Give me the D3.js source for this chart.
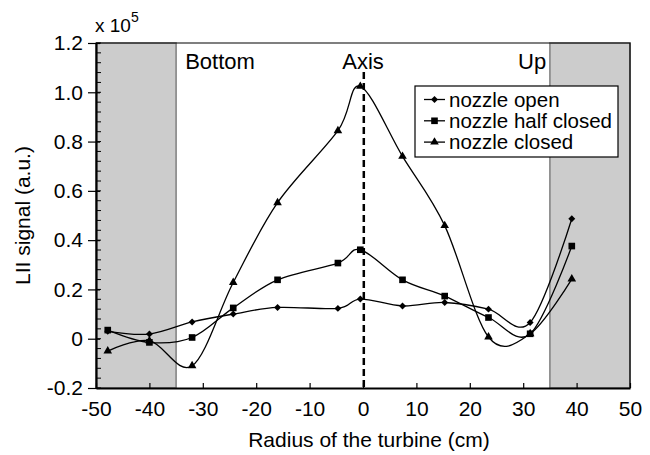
<!DOCTYPE html>
<html>
<head>
<meta charset="utf-8">
<script src="https://cdn.jsdelivr.net/npm/d3@7"></script>
<style>
  body { margin: 0; background: #fff; }
  text { font-family: "Liberation Sans", Arial, sans-serif; fill: #000; }
</style>
</head>
<body>
<div id="chart"></div>
<script>
// radius positions (cm) and LII signal in units of 1e5
const radius = [-47.8, -40, -32, -24.3, -16, -4.7, -0.5, 7.4, 15.3, 23.5, 31.3, 39.1];
const nozzleOpen = [0.030, 0.019, 0.068, 0.100, 0.127, 0.123, 0.161, 0.133, 0.147, 0.120, 0.066, 0.487];
const nozzleHalf = [0.035, -0.015, 0.005, 0.125, 0.239, 0.307, 0.361, 0.239, 0.173, 0.086, 0.020, 0.376];
const nozzleClosed = [-0.050, -0.008, -0.110, 0.228, 0.552, 0.844, 1.024, 0.740, 0.459, 0.007, 0.020, 0.242];

const seriesNames = ["nozzle open", "nozzle half closed", "nozzle closed"];
const seriesValues = [nozzleOpen, nozzleHalf, nozzleClosed];

const xTicks = [-50, -40, -30, -20, -10, 0, 10, 20, 30, 40, 50];
const yTicks = [-0.2, 0, 0.2, 0.4, 0.6, 0.8, 1.0, 1.2];
const shaded = [[-50, -35], [35, 50]];
const regionLabels = [
  {text: "Bottom", x: -33.3, anchor: "start"},
  {text: "Axis", x: 0, anchor: "middle"},
  {text: "Up", x: 34.3, anchor: "end"}
];

const width = 650, height = 455;
const margin = {top: 43, right: 20, bottom: 67, left: 96};

const svg = d3.select("#chart").append("svg")
  .attr("width", width)
  .attr("height", height);

const x = d3.scaleLinear()
  .domain([-50, 50])
  .range([margin.left, width - margin.right]);

const y = d3.scaleLinear()
  .domain([-0.2, 1.2])
  .range([height - margin.bottom, margin.top]);

// marker shapes: diamond is a square turned 45 degrees
const markers = [
  {type: d3.symbolSquare, size: 24, rotate: 45},
  {type: d3.symbolSquare, size: 44, rotate: 0},
  {type: d3.symbolTriangle, size: 32, rotate: 0}
];

// shaded zones outside the turbine
svg.append("g")
  .selectAll("rect")
  .data(shaded)
  .join("rect")
    .attr("x", d => x(d[0]))
    .attr("y", y(1.2))
    .attr("width", d => x(d[1]) - x(d[0]))
    .attr("height", y(-0.2) - y(1.2))
    .attr("fill", "#cccccc")
    .attr("stroke", "#7f7f7f")
    .attr("stroke-width", 1.5);

// frame: top and right edges
svg.append("path")
  .attr("d", `M${x(-50)},${y(1.2)}H${x(50)}V${y(-0.2)}`)
  .attr("fill", "none")
  .attr("stroke", "#000")
  .attr("stroke-width", 1.2);

// turbine axis
svg.append("line")
  .attr("x1", x(0.15)).attr("x2", x(0.15))
  .attr("y1", 72).attr("y2", y(-0.2))
  .attr("stroke", "#000")
  .attr("stroke-width", 2.5)
  .attr("stroke-dasharray", "7,4");

svg.append("g")
  .selectAll("text")
  .data(regionLabels)
  .join("text")
    .attr("x", d => x(d.x))
    .attr("y", 69)
    .attr("text-anchor", d => d.anchor)
    .attr("font-size", 22)
    .text(d => d.text);

// x axis
const xAxis = svg.append("g")
  .attr("transform", `translate(0,${y(-0.2)})`)
  .call(d3.axisBottom(x).tickValues(xTicks).tickSize(0).tickPadding(13).tickFormat(d => String(d)));
xAxis.select(".domain").attr("stroke-width", 2.2);
xAxis.selectAll(".tick text").attr("font-size", 21).attr("font-family", null);
xAxis.selectAll(".tick").append("line")
  .attr("y1", 0).attr("y2", -5)
  .attr("stroke", "#000").attr("stroke-width", 1.2);

// y axis, major ticks cross the line, minor ticks point inward
const minorY = d3.range(-0.2, 1.2001, 0.04);
svg.append("g")
  .selectAll("line")
  .data(minorY)
  .join("line")
    .attr("x1", x(-50)).attr("x2", x(-50) + 5)
    .attr("y1", d => y(d)).attr("y2", d => y(d))
    .attr("stroke", "#000").attr("stroke-width", 1);

const yAxis = svg.append("g")
  .attr("transform", `translate(${x(-50)},0)`)
  .call(d3.axisLeft(y).tickValues(yTicks).tickSizeInner(8).tickSizeOuter(0).tickPadding(5)
    .tickFormat(d => Math.abs(d) < 1e-9 ? "0" : d3.format(".1f")(d).replace("−", "-")));
yAxis.select(".domain").attr("stroke-width", 2.2);
yAxis.selectAll(".tick line").attr("x2", -8).attr("x1", 4).attr("stroke-width", 1.2);
yAxis.selectAll(".tick text").attr("font-size", 21).attr("font-family", null);

// axis titles
svg.append("text")
  .attr("x", x(0) + 6)
  .attr("y", 447)
  .attr("text-anchor", "middle")
  .attr("font-size", 21)
  .text("Radius of the turbine (cm)");

svg.append("text")
  .attr("transform", `translate(30,${(y(1.2) + y(-0.2)) / 2}) rotate(-90)`)
  .attr("text-anchor", "middle")
  .attr("font-size", 21)
  .text("LII signal (a.u.)");

const scaleNote = svg.append("text")
  .attr("x", x(-50) - 1)
  .attr("y", 32)
  .attr("font-size", 19);
scaleNote.append("tspan").text("x 10");
scaleNote.append("tspan").attr("dy", -10).attr("font-size", 14).text("5");

// series
const line = d3.line()
  .x((d, i) => x(radius[i]))
  .y(d => y(d))
  .curve(d3.curveCatmullRom.alpha(0));

const markerPath = m => d3.symbol().type(m.type).size(m.size)();

seriesValues.forEach((values, s) => {
  const g = svg.append("g");
  g.append("path")
    .datum(values)
    .attr("fill", "none")
    .attr("stroke", "#000")
    .attr("stroke-width", 1.3)
    .attr("d", line);

  g.selectAll("path.pt")
    .data(values)
    .join("path")
      .attr("class", "pt")
      .attr("transform", (d, i) => `translate(${x(radius[i])},${y(d)}) rotate(${markers[s].rotate})`)
      .attr("d", markerPath(markers[s]))
      .attr("fill", "#000");
});

// legend
const legend = svg.append("g").attr("transform", "translate(415,86)");
legend.append("rect")
  .attr("width", 203).attr("height", 71)
  .attr("fill", "#fff")
  .attr("stroke", "#000").attr("stroke-width", 1.2);

const item = legend.selectAll("g")
  .data(seriesNames)
  .join("g")
    .attr("transform", (d, i) => `translate(0,${13.5 + i * 21.3})`);

item.append("line")
  .attr("x1", 9).attr("x2", 30)
  .attr("stroke", "#000").attr("stroke-width", 1.3);
item.append("path")
  .attr("transform", (d, i) => `translate(19.5,0) rotate(${markers[i].rotate})`)
  .attr("d", (d, i) => markerPath(markers[i]))
  .attr("fill", "#000");
item.append("text")
  .attr("x", 34)
  .attr("y", 7)
  .attr("font-size", 20.5)
  .text(d => d);
</script>
</body>
</html>
